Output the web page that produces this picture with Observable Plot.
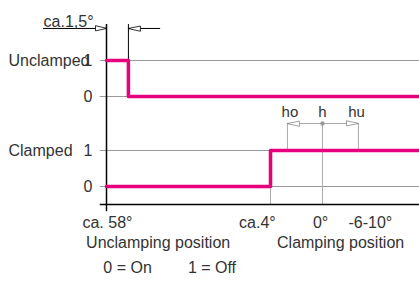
<!DOCTYPE html>
<html><head><meta charset="utf-8">
<script src="https://cdn.jsdelivr.net/npm/d3@7"></script>
<script src="https://cdn.jsdelivr.net/npm/@observablehq/plot@0.6"></script>
<style>body{margin:0;background:#fff;overflow:hidden}</style>
</head><body><div id="chart"></div>
<script>
// travel position along the stroke (abstract units 0..100), signal states 0/1
const signalNames = ["Unclamped", "Clamped"];
const signalOffsets = [2.5, 0];
const unclampedSignal = [[0, 1], [7, 0], [100, 0]];
const clampedSignal = [[0, 0], [52.4, 1], [100, 1]];
const stateTicks = [0, 1];
const positionLabels = ["ca. 58°", "ca.4°", "0°", "-6-10°"];
const positionLabelPos = [0.3, 48.2, 68.4, 84.3];
const positionNames = ["Unclamping position", "Clamping position"];
const positionNamePos = [16.5, 74.8];
const hysteresisLabels = ["ho", "h", "hu"];
const hysteresisPos = [57.8, 69, 80.5];
const hysteresisLevel = 1.75;
const switchPointPos = 52.4;
const angleLabel = "ca.1,5°";
const anglePos = [0, 7];
const angleLevel = 4.39;
const legendLabels = ["0 = On", "1 = Off"];
const legendPos = [-1, 26];

const pink = "#e6007e";
const ink = "#333";
const grid = "#9a9a9a";
const font = "Liberation Sans, Arial, Helvetica, sans-serif";

const tri = {
  draw(ctx, l) {
    ctx.moveTo(0, -l);
    ctx.lineTo(2.4, 0);
    ctx.lineTo(-2.4, 0);
    ctx.closePath();
  }
};

const yTicks = signalOffsets.flatMap(o => stateTicks.map(s => ({y: s + o, label: String(s)})));
const gridLevels = yTicks.map(d => d.y);

const chart = Plot.plot({
  width: 419, height: 282,
  marginLeft: 106, marginRight: 0, marginTop: 24, marginBottom: 78,
  x: {domain: [0, 100], axis: null},
  y: {domain: [-0.5, 4.5], axis: null},
  style: {fontFamily: font, fontSize: "16px", background: "white"},
  marks: [
    Plot.ruleY(gridLevels, {y: d => d, x1: -2, x2: 100, stroke: grid, strokeWidth: 1}),
    // gray construction lines
    Plot.ruleX([switchPointPos], {x: d => d, y1: -0.5, y2: 1, stroke: "#aaa", strokeWidth: 1}),
    Plot.ruleX([hysteresisPos[1]], {x: d => d, y1: -0.5, y2: hysteresisLevel, stroke: "#aaa", strokeWidth: 1}),
    Plot.ruleX([hysteresisPos[0], hysteresisPos[2]], {x: d => d, y1: 1, y2: hysteresisLevel, stroke: "#aaa", strokeWidth: 1}),
    Plot.ruleY([hysteresisLevel], {y: d => d, x1: hysteresisPos[0], x2: hysteresisPos[2], stroke: "#aaa", strokeWidth: 1}),
    Plot.vector([hysteresisPos[0]], {x: d => d, y: hysteresisLevel, length: 12, rotate: -90, anchor: "end", shape: tri, stroke: "#888", fill: "white", strokeWidth: 0.8}),
    Plot.vector([hysteresisPos[2]], {x: d => d, y: hysteresisLevel, length: 12, rotate: 90, anchor: "end", shape: tri, stroke: "#888", fill: "white", strokeWidth: 0.8}),
    Plot.dot([hysteresisPos[1]], {x: d => d, y: hysteresisLevel, r: 2.2, fill: "#999"}),
    Plot.text(hysteresisLabels, {x: (d, i) => hysteresisPos[i] + [0.8, 0, -0.6][i], y: hysteresisLevel + 0.31, text: d => d, fill: ink, fontSize: 15}),
    // axes
    Plot.ruleY([-0.5], {y: d => d, x1: -2, x2: 100, stroke: "#000", strokeWidth: 1.5}),
    Plot.ruleX([0], {x: d => d, y1: -0.7, y2: 4.5, stroke: "#000", strokeWidth: 1.5}),
    Plot.ruleX([anglePos[1]], {x: d => d, y1: 3.5, y2: 4.5, stroke: "#000", strokeWidth: 1}),
    // angle dimension
    Plot.ruleY([angleLevel], {y: d => d, x1: -20.1, x2: anglePos[0], stroke: "#000", strokeWidth: 1}),
    Plot.ruleY([angleLevel], {y: d => d, x1: anglePos[1], x2: 17.3, stroke: "#000", strokeWidth: 1}),
    Plot.vector([anglePos[0]], {x: d => d, y: angleLevel, length: 11, rotate: 90, anchor: "end", shape: tri, stroke: "#000", fill: "white", strokeWidth: 0.8}),
    Plot.vector([anglePos[1]], {x: d => d, y: angleLevel, length: 12, rotate: -90, anchor: "end", shape: tri, stroke: "#000", fill: "white", strokeWidth: 0.8}),
    Plot.text([angleLabel], {x: -20.1, frameAnchor: "top", dy: -9, text: d => d, textAnchor: "start", fill: ink}),
    // signals
    Plot.line(unclampedSignal, {x: d => d[0], y: d => d[1] + signalOffsets[0], curve: "step-after", stroke: pink, strokeWidth: 3.5}),
    Plot.line(clampedSignal, {x: d => d[0], y: d => d[1] + signalOffsets[1], curve: "step-after", stroke: pink, strokeWidth: 3.5}),
    // y labels
    Plot.text(yTicks, {x: 0, y: "y", text: "label", dx: -14, textAnchor: "end", fill: ink}),
    Plot.text(signalNames, {x: 0, y: (d, i) => signalOffsets[i] + 1, text: d => d, dx: -98, textAnchor: "start", fill: ink}),
    // x labels
    Plot.text(positionLabels, {x: (d, i) => positionLabelPos[i], frameAnchor: "bottom", dy: 23, text: d => d, fill: ink}),
    Plot.text(positionNames, {x: (d, i) => positionNamePos[i], frameAnchor: "bottom", dy: 43, text: d => d, fill: ink}),
    Plot.text(legendLabels, {x: (d, i) => legendPos[i], frameAnchor: "bottom", dy: 68, text: d => d, textAnchor: "start", fill: ink})
  ]
});
document.getElementById("chart").appendChild(chart);
</script>
</body></html>
